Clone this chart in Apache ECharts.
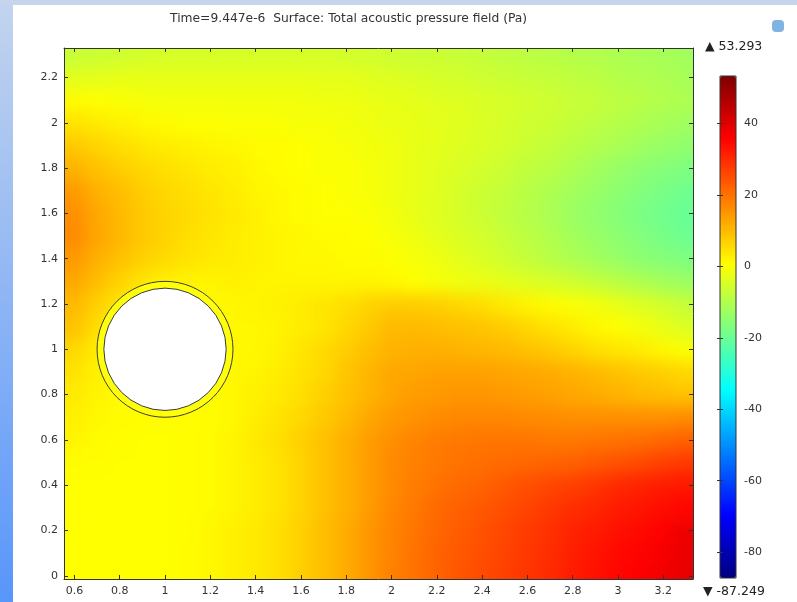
<!DOCTYPE html>
<html><head><meta charset="utf-8">
<script src="https://cdn.jsdelivr.net/npm/echarts@6/dist/echarts.min.js"></script>
<style>
html,body{margin:0;padding:0;background:#fff}
#wrap{position:relative;width:797px;height:602px;overflow:hidden}
#fieldClip{position:absolute;overflow:hidden}
#field{position:absolute;width:797px;height:602px;filter:blur(8px)}
#c{position:absolute;left:0;top:0;width:797px;height:602px}
</style>
</head><body><div id="wrap"><div id="fieldClip"><div id="field"></div></div><div id="c"></div></div>
<script>
// ---- data ----
const xCoords = [0.6,0.7,0.8,0.9,1.0,1.1,1.2,1.3,1.4,1.5,1.6,1.7,1.8,1.9,2.0,2.1,2.2,2.3,2.4,2.5,2.6,2.7,2.8,2.9,3.0,3.1,3.2,3.3];
const yCoords = [0,0.1,0.2,0.3,0.4,0.5,0.6,0.7,0.8,0.9,1.0,1.1,1.2,1.3,1.4,1.5,1.6,1.7,1.8,1.9,2.0,2.1,2.2,2.3];
// total acoustic pressure (Pa), one row per y (from y=0 upward), one value per x
const pressureRows = [
[0.6,0.6,0.6,0.6,0.6,1,1.5,2.5,3.5,5,7,9.5,12,15,18,20,22,24,25.5,27,28.5,30,32,33.5,35,36,37.5,39],
[0.6,0.6,0.6,0.6,0.6,1,1.5,2.5,3.5,5,7,9.5,12,15,17.5,20,22,23.5,25,26.5,28,29.5,31.5,33,34.5,35.5,37,38.5],
[0.6,0.6,0.6,0.6,0.6,0.8,1.5,2.5,3.5,5,7,9.5,12,15,17.5,19.5,21.5,23,24.5,26,27.5,29,31,32,33.5,34.5,36,38],
[0.6,0.6,0.6,0.6,0.6,0.8,1.2,2,3,4.5,6.5,9,11.5,14,17,19,21,22.5,23.5,25,26.5,28,29.5,30.5,32,33,34,35],
[0.6,0.6,0.6,0.6,0.6,0.8,1.2,2,3,4.5,6.5,9,11.5,14,16.5,18.5,20,21,22,23.5,25,26,27,28.5,30,31,32,32.5],
[1,0.8,0.6,0.6,0.6,0.8,1.2,2,3,4.5,6.5,9,11.5,14,16.5,18,19,20,20.5,21,21.5,22,22.5,23.5,24.5,25.5,27,28],
[2,1,0.8,0.6,0.6,0.8,1.2,2,3.5,5,7,9,11.5,14,16,17.5,18.5,19,19.5,19.5,19.5,19,19,19.5,20,20.5,21.5,22.5],
[2.5,1.5,1,0.8,0.8,0.8,1,1.5,3,4.5,6,8,10,12.5,14.5,15.5,16.5,17,17,17,16.5,16.5,16,16,16,16,16,16.5],
[3.5,2,1,1,1,1,1,1.5,2.5,3.5,5,7,9,11,13,14,14.5,15,15,14.5,14,13.5,12.5,12,11,10,9.5,9],
[4.5,2.5,1.5,1.5,1.5,1.5,1.5,1.5,2,3,4.5,6,8.5,10.5,12.5,13,13.5,13.5,13.5,13,12.5,12,11,10,9,8,7,6],
[6,3,2,1.5,1.5,1.5,1.5,1.5,1.5,2.5,4,5.5,7.5,9.5,11,11.5,11.5,11,10.5,10,9,8,6.5,5,4,3,1.5,0],
[9,5,2,1.5,1.5,1.5,1.5,1.5,1.5,2,3,4,6,8,10,10,9.5,9,8.5,7.5,6,4.5,3,1.5,0.5,-1,-2.5,-4.5],
[10,7,4,2,1.5,1.5,1.5,1.5,2,2.5,3,4,5,6.5,7.5,7.5,7,6,5,3.5,2,1,0,-1,-2.5,-4,-5.5,-7.5],
[12.5,9.5,6.5,4,2.5,2,2,2.5,2,2,2,2,2,2,1.5,0.5,-0.5,-1.5,-2,-3,-4,-5,-6,-7.5,-9,-10.5,-12,-13],
[14.5,11.5,9,7,5.5,4.5,3.5,3,2.5,2,1.5,1.5,1,1,0.5,-0.5,-1.5,-3,-4.5,-6,-7.5,-9,-10.5,-12,-13.5,-15,-16,-17],
[16.5,13,10.5,8,6.5,5,4,3,2.5,2,1.5,1,1,0.5,-0.5,-1.5,-3,-4.5,-5.5,-7,-8.5,-10,-12,-13.5,-15,-16.5,-18,-19.5],
[16,12.5,10,8,6.5,5.5,4.5,3.5,2.5,1.5,1,0.5,0.5,0,-1,-2.5,-4,-5,-6.5,-8,-9.5,-11,-13,-14.5,-16,-17.5,-19,-20],
[14.5,11.5,9.5,7.5,6,5,4,3,2,1.5,1,0.5,0,-0.5,-1.5,-2.5,-3.5,-5,-6.5,-7.5,-9,-10.5,-12,-13.5,-15,-16.5,-18,-19],
[11,9,7.5,6,5,4,3,2.5,1.5,1,0.5,0,0,-0.5,-1.5,-2.5,-3.5,-4.5,-5.5,-6.5,-8,-9,-10.5,-12,-13.5,-15,-16,-17],
[8,6.5,5,4,3,2.5,2,1.5,1,1,0.5,0,-0.5,-1,-1.5,-2.5,-3,-4,-4.5,-5.5,-6.5,-7.5,-9,-10,-11,-12.5,-13.5,-14.5],
[4.5,3.5,2.5,1.5,1,0.5,0.5,0,0,0,-0.5,-0.5,-1,-1.5,-2,-2.5,-3,-3.5,-4.5,-5,-6,-6.5,-7.5,-8.5,-9.5,-10.5,-11.5,-12.5],
[1,0.5,0,-0.5,-1,-1,-1,-1,-1,-1,-1,-1.5,-1.5,-2,-2.5,-3,-3.5,-4,-4.5,-5,-5.5,-6,-7,-7.5,-8.5,-9,-10,-10.5],
[-3.5,-3,-2.5,-2.5,-2.5,-2.5,-2.5,-2.5,-2.5,-2.5,-2.5,-3,-3,-3.5,-4,-4.5,-5,-5.5,-6,-6.5,-7,-7.5,-8,-8.5,-9.5,-10,-10.5,-11.5],
[-7,-6.5,-6,-5.5,-5,-5,-5,-5,-5,-5,-5,-5,-5.5,-5.5,-6,-6.5,-6.5,-7,-7.5,-8,-8.5,-9,-9.5,-10,-10.5,-11,-11.5,-12]
];
const xTickValues = [0.6,0.8,1,1.2,1.4,1.6,1.8,2,2.2,2.4,2.6,2.8,3,3.2];
const yTickValues = [0,0.2,0.4,0.6,0.8,1,1.2,1.4,1.6,1.8,2,2.2];
const colorTickValues = [40,20,0,-20,-40,-60,-80];
const colorMin = -87.249, colorMax = 53.293;
const xRange = [0.554, 3.331], yRange = [-0.014, 2.33];
// scatterer: centre x, centre y, outer radius, inner radius
const scatterer = [[1, 1, 0.3, 0.27]];
const titleText = 'Time=9.447e-6  Surface: Total acoustic pressure field (Pa)';

// ---- layout / style ----
const plot = {left: 64, top: 48, width: 629, height: 531};
const bar = {left: 720, top: 76, width: 16, height: 502};
const jet = ['#00007f','#0000ff','#007fff','#00ffff','#7fff7f','#ffff00','#ff7f00','#ff0000','#7f0000'];
const font = 'DejaVu Sans';
const axisCol = '#333';

// ---- field layer (smoothed by a CSS blur, clipped to the plot area) ----
const clip = document.getElementById('fieldClip');
Object.assign(clip.style, {left: plot.left + 'px', top: plot.top + 'px', width: plot.width + 'px', height: plot.height + 'px'});
const fieldDiv = document.getElementById('field');
Object.assign(fieldDiv.style, {left: -plot.left + 'px', top: -plot.top + 'px'});

const fieldData = [];
pressureRows.forEach((row, j) => row.forEach((v, i) => fieldData.push([xCoords[i], yCoords[j], v, i, j])));
const dx = xCoords[1] - xCoords[0], dy = yCoords[1] - yCoords[0];
const nx = xCoords.length, ny = yCoords.length;
const EXT = 40; // outer cells are stretched beyond the clip so the blur has no soft edge

const field = echarts.init(fieldDiv, null, {renderer: 'canvas'});
field.setOption({
  animation: false,
  grid: {left: plot.left, top: plot.top, width: plot.width, height: plot.height, show: false},
  xAxis: {type: 'value', min: xRange[0], max: xRange[1], show: false},
  yAxis: {type: 'value', min: yRange[0], max: yRange[1], show: false},
  visualMap: {type: 'continuous', show: false, min: colorMin, max: colorMax, dimension: 2, inRange: {color: jet}},
  series: [{
    type: 'custom', clip: false, silent: true, data: fieldData,
    renderItem(params, api) {
      const x = api.value(0), y = api.value(1), i = api.value(3), j = api.value(4);
      const p0 = api.coord([x - dx / 2, y + dy / 2]);
      const p1 = api.coord([x + dx / 2, y - dy / 2]);
      let l = p0[0], t = p0[1], r = p1[0] + 0.6, b = p1[1] + 0.6;
      if (i === 0) l -= EXT;
      if (i === nx - 1) r += EXT;
      if (j === 0) b += EXT;
      if (j === ny - 1) t -= EXT;
      return {type: 'rect', shape: {x: l, y: t, width: r - l, height: b - t}, style: {fill: api.visual('color')}};
    }
  }]
});

// ---- main layer: axes, colour bar, scatterer, texts ----
const chart = echarts.init(document.getElementById('c'), null, {renderer: 'canvas'});
const mainAxisX = (pos, showLabel) => ({
  type: 'value', gridIndex: 0, position: pos, min: xRange[0], max: xRange[1], z: 10,
  axisLine: {show: true, onZero: false, lineStyle: {color: axisCol, width: 1}},
  axisTick: {show: true, inside: true, length: 4, customValues: xTickValues, lineStyle: {color: axisCol}},
  axisLabel: {show: showLabel, customValues: xTickValues, color: '#333', fontSize: 11, fontFamily: font, margin: 7, formatter: v => String(v)},
  splitLine: {show: false}
});
const mainAxisY = (pos, showLabel) => ({
  type: 'value', gridIndex: 0, position: pos, min: yRange[0], max: yRange[1], z: 10,
  axisLine: {show: true, onZero: false, lineStyle: {color: axisCol, width: 1}},
  axisTick: {show: true, inside: true, length: 4, customValues: yTickValues, lineStyle: {color: axisCol}},
  axisLabel: {show: showLabel, customValues: yTickValues, color: '#333', fontSize: 11, fontFamily: font, margin: 6, formatter: v => String(v)},
  splitLine: {show: false}
});
const cbAxis = (pos, showLabel) => ({
  type: 'value', gridIndex: 1, position: pos, min: colorMin, max: colorMax, z: 10,
  axisLine: {show: false},
  axisTick: {show: true, inside: true, length: 3, customValues: colorTickValues, lineStyle: {color: axisCol}},
  axisLabel: {show: showLabel, customValues: colorTickValues, color: '#333', fontSize: 11, fontFamily: font, margin: 8},
  splitLine: {show: false}
});

chart.setOption({
  animation: false,
  backgroundColor: 'transparent',
  title: {text: titleText, left: 165, top: 8, textStyle: {fontSize: 12.3, fontWeight: 'normal', color: '#333', fontFamily: font}},
  graphic: [
    {type: 'rect', left: 0, top: 0, shape: {width: 13, height: 602}, z: -10,
      style: {fill: new echarts.graphic.LinearGradient(0, 0, 0, 1, [{offset: 0, color: '#c3d4ee'}, {offset: 1, color: '#5896fb'}])}},
    {type: 'rect', left: 0, top: 0, shape: {width: 797, height: 5}, z: -10, style: {fill: '#c6d5ec'}},
    {type: 'rect', left: 772, top: 20, shape: {width: 12, height: 12, r: 4}, z: -5, style: {fill: '#6aa6dc', opacity: 0.85}},
    {type: 'text', left: 705, top: 40, style: {text: '\u25B2 ' + colorMax.toFixed(3), fill: '#222', font: '12.5px "DejaVu Sans"'}},
    {type: 'text', left: 703, top: 585, style: {text: '\u25BC ' + colorMin.toFixed(3), fill: '#222', font: '12.5px "DejaVu Sans"'}}
  ],
  grid: [
    {left: plot.left, top: plot.top, width: plot.width, height: plot.height, show: false},
    {left: bar.left, top: bar.top, width: bar.width, height: bar.height, show: true, borderColor: '#333', borderWidth: 1, backgroundColor: 'transparent', z: 10}
  ],
  xAxis: [mainAxisX('bottom', true), mainAxisX('top', false),
    {type: 'value', gridIndex: 1, show: false, min: 0, max: 1}],
  yAxis: [mainAxisY('left', true), mainAxisY('right', false), cbAxis('right', true), cbAxis('left', false)],
  visualMap: {
    type: 'continuous', min: colorMin, max: colorMax, seriesIndex: [], dimension: 2,
    inRange: {color: jet}, calculable: false, left: bar.left, top: bar.top, itemWidth: bar.width, itemHeight: bar.height,
    padding: 0, text: null, showLabel: false, hoverLink: false
  },
  series: [
    {
      type: 'custom', xAxisIndex: 0, yAxisIndex: 0, clip: true, silent: true, z: 5,
      data: scatterer,
      renderItem(params, api) {
        const c = api.coord([api.value(0), api.value(1)]);
        const ro = api.size([api.value(2), 0])[0];
        const ri = api.size([api.value(3), 0])[0];
        return {type: 'group', children: [
          {type: 'circle', shape: {cx: c[0], cy: c[1], r: ro}, style: {fill: '#ffff0a', stroke: '#3a3a3a', lineWidth: 1}},
          {type: 'circle', shape: {cx: c[0], cy: c[1], r: ri}, style: {fill: '#ffffff', stroke: '#3a3a3a', lineWidth: 1}}
        ]};
      }
    }
  ]
});
</script></body></html>
